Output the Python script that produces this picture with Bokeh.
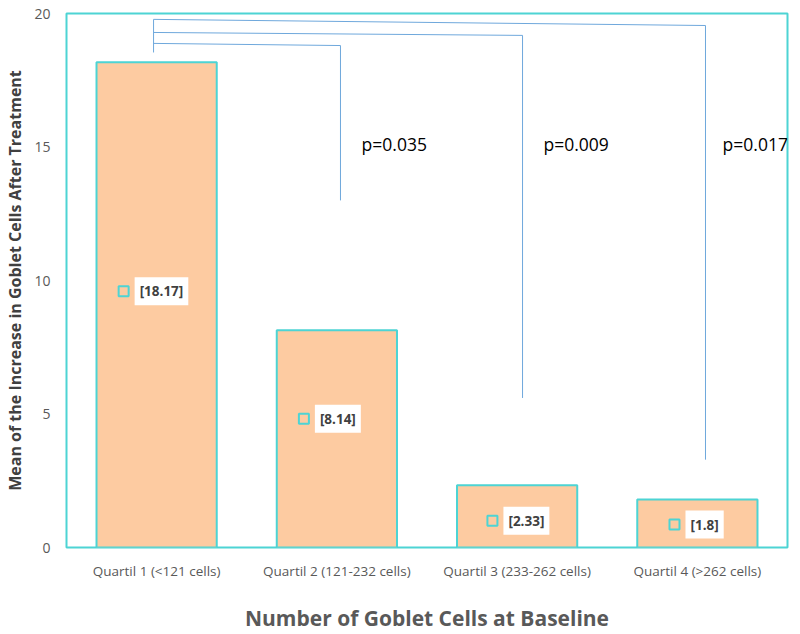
from bokeh.plotting import figure
from bokeh.models import Range1d, FixedTicker, ColumnDataSource, Label
from bokeh.core.properties import value
from bokeh.embed import file_html
from bokeh.resources import INLINE

categories = ["Quartil 1 (<121 cells)", "Quartil 2 (121-232 cells)",
              "Quartil 3 (233-262 cells)", "Quartil 4 (>262 cells)"]
means = [18.17, 8.14, 2.33, 1.8]
labels = ["[18.17]", "[8.14]", "[2.33]", "[1.8]"]
p_values = ["p=0.035", "p=0.009", "p=0.017"]
y_ticks = [0, 5, 10, 15, 20]

# layout constants
label_y = [9.6, 4.82, 1.0, 0.86]
marker_shift = [0.183, 0.183, 0.137, 0.127]
bracket_left_x = 0.483
bracket_left_y = [19.78, 19.29, 18.88]
bracket_right_x = [3.545, 2.53, 1.52]
bracket_right_y = [19.55, 19.18, 18.80]
bracket_bottom_y = [3.29, 5.6, 13.0]
pval_x = [1.637, 2.646, 3.64]
pval_y = 15.1

FONT = "Open Sans"
CYAN = "#4DD4D4"

centers = [i + 0.5 for i in range(len(categories))]

p = figure(width=800, height=634, output_backend="svg", toolbar_location=None,
           x_range=Range1d(0, 4), y_range=Range1d(0, 20),
           min_border_left=66, min_border_right=13, min_border_top=13,
           min_border_bottom=84)
p.background_fill_color = "white"
p.border_fill_color = "white"
p.outline_line_color = CYAN
p.outline_line_width = 2
p.xgrid.visible = False
p.ygrid.visible = False

p.vbar(x=centers, top=means, width=0.667, bottom=0,
       fill_color="#FDCBA1", line_color=CYAN, line_width=2)

# brackets
xs, ys = [], []
xs.append([bracket_left_x, bracket_left_x])
ys.append([bracket_left_y[0], 18.54])
for i in range(3):
    xs.append([bracket_left_x, bracket_right_x[i]])
    ys.append([bracket_left_y[i], bracket_right_y[i]])
    xs.append([bracket_right_x[i], bracket_right_x[i]])
    ys.append([bracket_right_y[i], bracket_bottom_y[i]])
p.multi_line(xs=xs, ys=ys, line_color="#6FA8DC", line_width=1)

for i in range(3):
    p.add_layout(Label(x=pval_x[i], y=pval_y, text=p_values[i],
                       text_font=FONT, text_font_size="17.5px", text_color="black",
                       text_align="left", text_baseline="middle"))

mx = [c - s for c, s in zip(centers, marker_shift)]
src = ColumnDataSource(dict(x=mx, y=label_y, text=labels))
p.scatter(x="x", y="y", source=src, marker="square", size=10,
          fill_color=None, line_color=CYAN, line_width=2)
p.text(x="x", y="y", text="text", source=src, x_offset=11,
       text_font=value(FONT), text_font_size="13.5px", text_font_style="bold",
       text_color="#404040", text_align="left", text_baseline="middle",
       background_fill_color="white", padding=5)

# axes
p.xaxis.ticker = FixedTicker(ticks=centers)
p.xaxis.major_label_overrides = {c: cat for c, cat in zip(centers, categories)}
p.xaxis.axis_line_color = None
p.xaxis.major_tick_line_color = None
p.xaxis.minor_tick_line_color = None
p.xaxis.major_tick_out = 0
p.xaxis.major_tick_in = 0
p.xaxis.major_label_standoff = 14
p.xaxis.major_label_text_font = FONT
p.xaxis.major_label_text_font_size = "13.5px"
p.xaxis.major_label_text_color = "#595959"
p.xaxis.axis_label = "Number of Goblet Cells at Baseline"
p.xaxis.axis_label_text_font = FONT
p.xaxis.axis_label_text_font_size = "21px"
p.xaxis.axis_label_text_font_style = "bold"
p.xaxis.axis_label_text_color = "#595959"
p.xaxis.axis_label_standoff = 21

p.yaxis.ticker = FixedTicker(ticks=y_ticks)
p.yaxis.axis_line_color = None
p.yaxis.major_tick_line_color = None
p.yaxis.minor_tick_line_color = None
p.yaxis.major_tick_out = 0
p.yaxis.major_tick_in = 0
p.yaxis.major_label_standoff = 16
p.yaxis.major_label_text_font = FONT
p.yaxis.major_label_text_font_size = "14px"
p.yaxis.major_label_text_color = "#595959"
p.yaxis.axis_label = "Mean of the Increase in Goblet Cells After Treatment"
p.yaxis.axis_label_text_font = FONT
p.yaxis.axis_label_text_font_size = "16px"
p.yaxis.axis_label_text_font_style = "bold"
p.yaxis.axis_label_text_color = "#404040"
p.yaxis.axis_label_standoff = 5

open("out.html", "w").write(file_html(p, INLINE))
